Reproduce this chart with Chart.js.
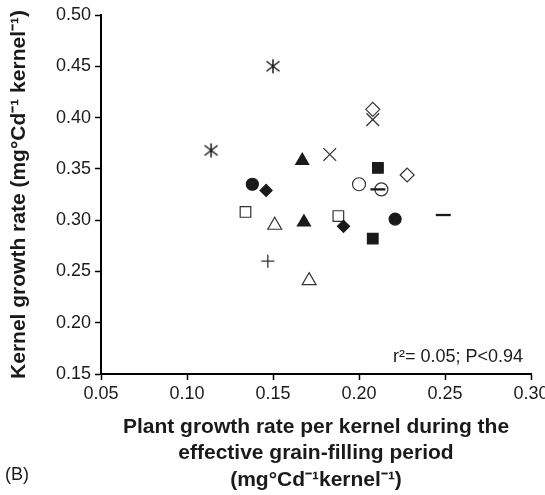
<!DOCTYPE html>
<html lang="en">
<head>
<meta charset="UTF-8" />
<title>Kernel growth rate</title>
<script src="https://cdn.jsdelivr.net/npm/chart.js"></script>
<style>
  html, body { margin: 0; padding: 0; background: #fff; }
  #wrap { width: 545px; height: 495px; }
</style>
</head>
<body>
<div id="wrap"><canvas id="grafico" width="545" height="495"></canvas></div>
<script>
// [x, y] pairs, one array per marker style
const asteriskPts      = [[0.150, 0.450], [0.114, 0.368]];
const filledCirclePts  = [[0.138, 0.335], [0.221, 0.301]];
const filledDiamondPts = [[0.146, 0.329], [0.191, 0.294]];
const filledTrianglePts = [[0.167, 0.358], [0.168, 0.298]];
const openSquarePts    = [[0.134, 0.308], [0.188, 0.304]];
const openTrianglePts  = [[0.151, 0.295], [0.171, 0.241]];
const plusPts          = [[0.147, 0.260]];
const xCrossPts        = [[0.208, 0.398], [0.183, 0.364]];
const openDiamondPts   = [[0.208, 0.408], [0.228, 0.344]];
const filledSquarePts  = [[0.211, 0.351], [0.208, 0.282]];
const openCirclePts    = [[0.200, 0.335], [0.213, 0.330]];
const dashPts          = [[0.249, 0.305], [0.211, 0.330]];

const xTicks = [0.05, 0.10, 0.15, 0.20, 0.25, 0.30];
const yTicks = [0.15, 0.20, 0.25, 0.30, 0.35, 0.40, 0.45, 0.50];

const yTitle = "Kernel growth rate (mg\u00b0Cd\u207b\u00b9 kernel\u207b\u00b9)";
const xTitle = ["Plant growth rate per kernel during the",
                "effective grain-filling period",
                "(mg\u00b0Cd\u207b\u00b9kernel\u207b\u00b9)"];
const statText = "r\u00b2= 0.05; P<0.94";
const panelLabel = "(B)";

const FONT = "'Liberation Sans', Arial, Helvetica, sans-serif";
const INK = "#1a1a1a";

// asterisk marker: X with a vertical bar
function asteriskImg() {
  const c = document.createElement("canvas");
  c.width = 16; c.height = 16;
  const g = c.getContext("2d");
  g.strokeStyle = INK;
  g.lineWidth = 1.5;
  g.beginPath();
  g.moveTo(8, 1); g.lineTo(8, 15);
  g.moveTo(1.5, 3); g.lineTo(14.5, 13);
  g.moveTo(14.5, 3); g.lineTo(1.5, 13);
  g.stroke();
  return c;
}

const toXY = pts => pts.map(p => ({ x: p[0], y: p[1] }));

function serie(pts, style, radius, filled, width) {
  return {
    data: toXY(pts),
    pointStyle: style,
    pointRadius: radius,
    pointHoverRadius: radius,
    backgroundColor: filled ? INK : "#fff",
    borderColor: filled ? INK : "#333",
    borderWidth: width || 1.2,
    showLine: false
  };
}

const textPlugin = {
  id: "extraText",
  afterDraw(chart) {
    const ctx = chart.ctx;
    ctx.save();
    ctx.fillStyle = INK;
    ctx.font = "18px " + FONT;
    ctx.textBaseline = "middle";
    ctx.textAlign = "right";
    ctx.fillText(statText, 523, 357);
    ctx.textAlign = "left";
    ctx.fillText(panelLabel, 5, 475);
    ctx.restore();
  }
};

// first dataset is painted last (on top), so the dash goes first
new Chart(document.getElementById("grafico"), {
  type: "scatter",
  data: {
    datasets: [
      serie(dashPts, "line", 7.5, true, 2.3),
      serie(asteriskPts, asteriskImg(), 8, false),
      serie(filledCirclePts, "circle", 6, true),
      serie(filledDiamondPts, "rectRot", 6, true),
      serie(filledTrianglePts, "triangle", 7.5, true),
      serie(openSquarePts, "rect", 7.5, false),
      serie(openTrianglePts, "triangle", 8, false),
      serie(plusPts, "cross", 6.5, false, 1.3),
      serie(openDiamondPts, "rectRot", 7, false),
      serie(xCrossPts, "crossRot", 9, false, 1.3),
      serie(filledSquarePts, "rect", 7.5, true),
      serie(openCirclePts, "circle", 6.5, false)
    ]
  },
  options: {
    responsive: false,
    animation: false,
    events: [],
    layout: { padding: { top: 15, right: 14, left: 0, bottom: 0 } },
    plugins: {
      legend: { display: false },
      tooltip: { enabled: false }
    },
    scales: {
      x: {
        type: "linear",
        min: 0.05,
        max: 0.30,
        afterBuildTicks: s => { s.ticks = xTicks.map(v => ({ value: v })); },
        afterFit: s => { s.height = 121; s.paddingLeft = 0; s.paddingRight = 0; },
        ticks: {
          color: INK,
          padding: 3,
          maxRotation: 0,
          font: { family: FONT, size: 18 },
          callback: v => v.toFixed(2)
        },
        grid: { drawOnChartArea: false, drawTicks: true, tickLength: 6, color: "#000", tickWidth: 1.5 },
        border: { display: true, color: "#000", width: 2 },
        title: {
          display: true,
          text: xTitle,
          color: INK,
          font: { family: FONT, size: 21, weight: "bold", lineHeight: 1.25 },
          padding: { top: 0, bottom: 2 }
        }
      },
      y: {
        type: "linear",
        min: 0.15,
        max: 0.50,
        afterBuildTicks: s => { s.ticks = yTicks.map(v => ({ value: v })); },
        afterFit: s => { s.width = 101; s.paddingTop = 0; s.paddingBottom = 0; },
        ticks: {
          color: INK,
          padding: 4,
          font: { family: FONT, size: 18 },
          callback: v => v.toFixed(2)
        },
        grid: { drawOnChartArea: false, drawTicks: true, tickLength: 6, color: "#000", tickWidth: 1.5 },
        border: { display: true, color: "#000", width: 2 },
        title: {
          display: true,
          text: yTitle,
          color: INK,
          font: { family: FONT, size: 21, weight: "bold", lineHeight: 1.2 },
          padding: { top: 7, bottom: 0 }
        }
      }
    }
  },
  plugins: [textPlugin]
});
</script>
</body>
</html>
